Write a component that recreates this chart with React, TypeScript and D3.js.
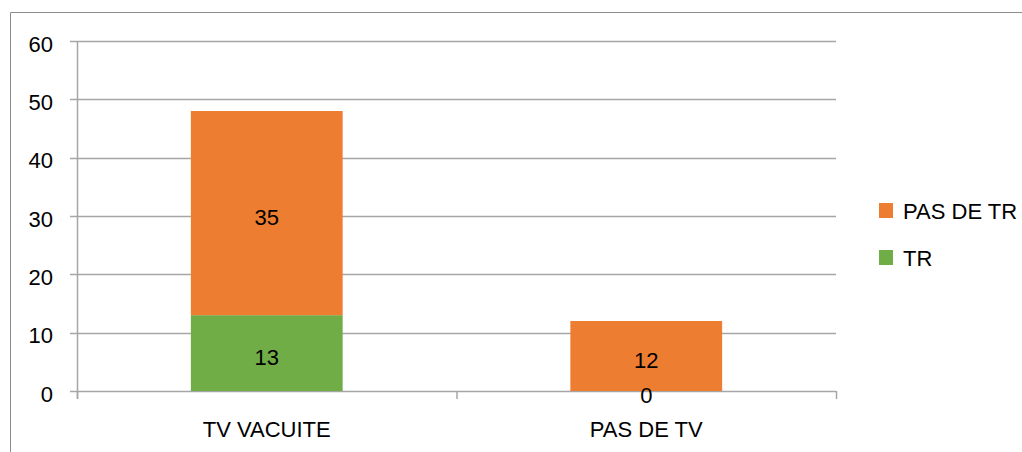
import * as d3 from "d3";
import { useEffect, useRef } from "react";

const categories = ["TV VACUITE", "PAS DE TV"];
const seriesNames = ["TR", "PAS DE TR"];
const trValues = [13, 0];
const pasDeTrValues = [35, 12];
const yTicks = [0, 10, 20, 30, 40, 50, 60];
const colors = ["#70AD47", "#ED7D31"];

const W = 1022,
  H = 452;

const App = () => {
  const svgRef = useRef<SVGSVGElement>(null);

  useEffect(() => {
    const svg = d3.select(svgRef.current);
    svg.selectAll("*").remove();
    const font = "'Liberation Sans', Arial, sans-serif";
    const fs = 22;

    // chart frame (clipped at the right and bottom)
    svg
      .append("path")
      .attr("d", `M10.5,${H} V12.5 H${W}`)
      .attr("fill", "none")
      .attr("stroke", "#8c8c8c")
      .attr("stroke-width", 1);

    const left = 77,
      right = 836;
    const y = d3.scaleLinear().domain([0, 60]).range([391, 41]);
    const x = d3.scaleBand().domain(categories).range([left, right]);

    const g = svg.append("g");

    // gridlines
    g.selectAll("line.grid")
      .data(yTicks)
      .enter()
      .append("line")
      .attr("x1", left - 7)
      .attr("x2", right)
      .attr("y1", (d) => Math.round(y(d)) + 0.5)
      .attr("y2", (d) => Math.round(y(d)) + 0.5)
      .attr("stroke", "#a6a6a6")
      .attr("stroke-width", 1.5);

    // y tick labels
    g.selectAll("text.ytick")
      .data(yTicks)
      .enter()
      .append("text")
      .attr("x", 53)
      .attr("y", (d) => y(d) + 3)
      .attr("text-anchor", "end")
      .attr("dominant-baseline", "central")
      .attr("font-family", font)
      .attr("font-size", fs)
      .attr("fill", "#000")
      .text((d) => d);

    // stacked data
    const table = categories.map((c, i) => ({
      cat: c,
      TR: trValues[i],
      "PAS DE TR": pasDeTrValues[i],
    }));
    const stack = d3.stack<any>().keys(seriesNames)(table);

    const bw = x.bandwidth() * 0.4;
    stack.forEach((layer, li) => {
      layer.forEach((seg) => {
        const cx = (x(seg.data.cat) as number) + x.bandwidth() / 2;
        if (seg[1] - seg[0] > 0) {
          g.append("rect")
            .attr("x", cx - bw / 2)
            .attr("y", y(seg[1]))
            .attr("width", bw)
            .attr("height", y(seg[0]) - y(seg[1]))
            .attr("fill", colors[li]);
        }
      });
    });

    // axes lines
    g.append("line")
      .attr("x1", left + 0.5)
      .attr("x2", left + 0.5)
      .attr("y1", y(60))
      .attr("y2", y(0) + 8)
      .attr("stroke", "#a6a6a6")
      .attr("stroke-width", 1.5);
    const xTicks = [left, left + x.step(), right];
    g.selectAll("line.xtick")
      .data(xTicks)
      .enter()
      .append("line")
      .attr("x1", (d) => d + 0.5)
      .attr("x2", (d) => d + 0.5)
      .attr("y1", y(0))
      .attr("y2", y(0) + 8)
      .attr("stroke", "#a6a6a6")
      .attr("stroke-width", 1.5);

    // data labels
    stack.forEach((layer) => {
      layer.forEach((seg) => {
        const cx = (x(seg.data.cat) as number) + x.bandwidth() / 2;
        g.append("text")
          .attr("x", cx)
          .attr("y", y((seg[0] + seg[1]) / 2) + 4)
          .attr("text-anchor", "middle")
          .attr("dominant-baseline", "central")
          .attr("font-family", font)
          .attr("font-size", fs)
          .attr("fill", "#000")
          .text(seg[1] - seg[0]);
      });
    });

    // category labels
    g.selectAll("text.cat")
      .data(categories)
      .enter()
      .append("text")
      .attr("x", (d) => (x(d) as number) + x.bandwidth() / 2)
      .attr("y", 437)
      .attr("text-anchor", "middle")
      .attr("font-family", font)
      .attr("font-size", fs)
      .attr("fill", "#000")
      .text((d) => d);

    // legend
    const legendItems = [...seriesNames].reverse();
    const lg = svg.append("g").attr("transform", "translate(879,203)");
    legendItems.forEach((name, i) => {
      const row = lg.append("g").attr("transform", `translate(0,${i * 47})`);
      row
        .append("rect")
        .attr("width", 14)
        .attr("height", 15)
        .attr("fill", colors[seriesNames.indexOf(name)]);
      row
        .append("text")
        .attr("x", 24)
        .attr("y", 8.5)
        .attr("dominant-baseline", "central")
        .attr("font-family", font)
        .attr("font-size", fs)
        .attr("fill", "#000")
        .text(name);
    });
  }, []);

  return (
    <svg
      ref={svgRef}
      width={W}
      height={H}
      style={{ position: "absolute", left: 0, top: 0, background: "#fff" }}
    />
  );
};

export default App;
